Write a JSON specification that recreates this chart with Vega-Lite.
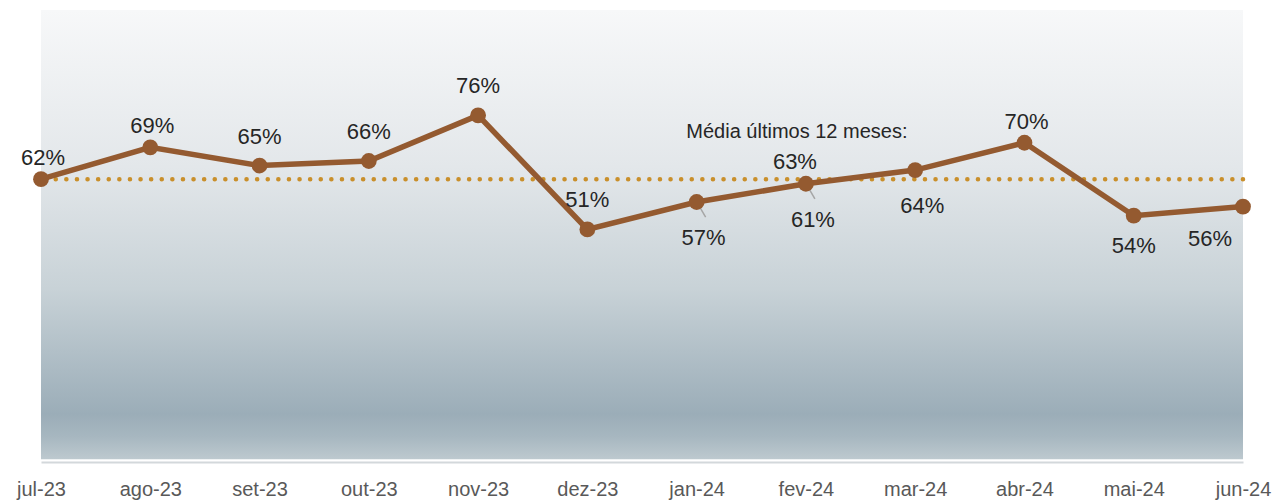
{
  "$schema": "https://vega.github.io/schema/vega-lite/v6.json",
  "autosize": {"type": "none"},
  "padding": {"left": 41, "top": 10, "right": 36, "bottom": 41},
  "width": 1202,
  "height": 452,
  "background": "white",
  "config": {
    "view": {"stroke": null},
    "font": "Liberation Sans"
  },
  "datasets": {
    "main": [
      {"month": "jul-23", "value": 0.62},
      {"month": "ago-23", "value": 0.69},
      {"month": "set-23", "value": 0.65},
      {"month": "out-23", "value": 0.66},
      {"month": "nov-23", "value": 0.76},
      {"month": "dez-23", "value": 0.51},
      {"month": "jan-24", "value": 0.57},
      {"month": "fev-24", "value": 0.61},
      {"month": "mar-24", "value": 0.64},
      {"month": "abr-24", "value": 0.70},
      {"month": "mai-24", "value": 0.54},
      {"month": "jun-24", "value": 0.56}
    ],
    "average": [
      {"label": "Média últimos 12 meses:", "month": "fev-24", "value": 0.62, "shown": "63%"}
    ]
  },
  "layer": [
    {
      "data": {"name": "average"},
      "mark": {
        "type": "rect",
        "fill": {
          "gradient": "linear", "x1": 0, "y1": 0, "x2": 0, "y2": 1,
          "stops": [
            {"offset": 0, "color": "#f7f8f9"},
            {"offset": 0.35, "color": "#e3e7ea"},
            {"offset": 0.62, "color": "#c8d2d7"},
            {"offset": 0.9, "color": "#9badb8"},
            {"offset": 0.95, "color": "#a7b7c0"},
            {"offset": 1, "color": "#bdc9cf"}
          ]
        }
      },
      "encoding": {
        "y": {"datum": 0.991, "type": "quantitative", "scale": {"domain": [0, 0.991], "nice": false, "zero": true}, "axis": null},
        "y2": {"datum": 0.006}
      }
    },
    {
      "data": {"name": "average"},
      "mark": {"type": "rule", "color": "#c98f2b", "strokeWidth": 4.5, "strokeDash": [0.1, 10.5], "strokeCap": "round"},
      "encoding": {
        "y": {"field": "value", "type": "quantitative"}
      }
    },
    {
      "data": {"name": "main"},
      "mark": {"type": "line", "color": "#945a30", "strokeWidth": 5.5},
      "encoding": {
        "x": {
          "field": "month", "type": "ordinal", "sort": null,
          "scale": {"type": "point", "padding": 0, "domain": ["jul-23", "ago-23", "set-23", "out-23", "nov-23", "dez-23", "jan-24", "fev-24", "mar-24", "abr-24", "mai-24", "jun-24"]},
          "axis": {
            "title": null, "labelAngle": 0, "ticks": false,
            "domain": true, "domainColor": "#d3d8db", "domainWidth": 2,
            "labelFontSize": 20, "labelColor": "#595959", "labelPadding": 17,
            "labelFont": "Liberation Sans", "grid": false
          }
        },
        "y": {"field": "value", "type": "quantitative"}
      }
    },
    {
      "data": {"name": "main"},
      "transform": [{"filter": {"field": "month", "oneOf": ["jan-24", "fev-24"]}}],
      "mark": {"type": "rule", "color": "#a6a6a6", "strokeWidth": 1.5, "xOffset": 2, "yOffset": 3, "x2Offset": 9, "y2Offset": 15},
      "encoding": {
        "x": {"field": "month", "type": "ordinal", "sort": null},
        "x2": {"field": "month"},
        "y": {"field": "value", "type": "quantitative"},
        "y2": {"field": "value"}
      }
    },
    {
      "data": {"name": "main"},
      "mark": {"type": "circle", "color": "#945a30", "opacity": 1, "size": 250},
      "encoding": {
        "x": {"field": "month", "type": "ordinal", "sort": null},
        "y": {"field": "value", "type": "quantitative"}
      }
    },
    {
      "data": {"name": "average"},
      "mark": {"type": "text", "fontSize": 20, "color": "#262626", "align": "center", "baseline": "middle", "dx": -9, "dy": -47},
      "encoding": {
        "x": {"field": "month", "type": "ordinal", "sort": null},
        "y": {"field": "value", "type": "quantitative"},
        "text": {"field": "label"}
      }
    },
    {
      "data": {"name": "average"},
      "mark": {"type": "text", "fontSize": 22, "color": "#262626", "align": "center", "baseline": "middle", "dx": -11, "dy": -17},
      "encoding": {
        "x": {"field": "month", "type": "ordinal", "sort": null},
        "y": {"field": "value", "type": "quantitative"},
        "text": {"field": "shown"}
      }
    },
    {
      "data": {"name": "main"},
      "transform": [{"filter": {"field": "month", "oneOf": ["jul-23", "ago-23", "abr-24"]}}],
      "mark": {"type": "text", "fontSize": 22, "color": "#262626", "baseline": "middle", "dy": -21, "dx": 2},
      "encoding": {
        "x": {"field": "month", "type": "ordinal", "sort": null},
        "y": {"field": "value", "type": "quantitative"},
        "text": {"field": "value", "type": "quantitative", "format": ".0%"}
      }
    },
    {
      "data": {"name": "main"},
      "transform": [{"filter": {"field": "month", "oneOf": ["set-23", "out-23", "nov-23", "dez-23"]}}],
      "mark": {"type": "text", "fontSize": 22, "color": "#262626", "baseline": "middle", "dy": -29},
      "encoding": {
        "x": {"field": "month", "type": "ordinal", "sort": null},
        "y": {"field": "value", "type": "quantitative"},
        "text": {"field": "value", "type": "quantitative", "format": ".0%"}
      }
    },
    {
      "data": {"name": "main"},
      "transform": [{"filter": {"field": "month", "oneOf": ["jan-24", "fev-24", "mar-24"]}}],
      "mark": {"type": "text", "fontSize": 22, "color": "#262626", "baseline": "middle", "dy": 36, "dx": 7},
      "encoding": {
        "x": {"field": "month", "type": "ordinal", "sort": null},
        "y": {"field": "value", "type": "quantitative"},
        "text": {"field": "value", "type": "quantitative", "format": ".0%"}
      }
    },
    {
      "data": {"name": "main"},
      "transform": [{"filter": {"field": "month", "oneOf": ["mai-24"]}}],
      "mark": {"type": "text", "fontSize": 22, "color": "#262626", "baseline": "middle", "dy": 30},
      "encoding": {
        "x": {"field": "month", "type": "ordinal", "sort": null},
        "y": {"field": "value", "type": "quantitative"},
        "text": {"field": "value", "type": "quantitative", "format": ".0%"}
      }
    },
    {
      "data": {"name": "main"},
      "transform": [{"filter": {"field": "month", "oneOf": ["jun-24"]}}],
      "mark": {"type": "text", "fontSize": 22, "color": "#262626", "baseline": "middle", "dy": 32, "dx": -33},
      "encoding": {
        "x": {"field": "month", "type": "ordinal", "sort": null},
        "y": {"field": "value", "type": "quantitative"},
        "text": {"field": "value", "type": "quantitative", "format": ".0%"}
      }
    }
  ]
}
